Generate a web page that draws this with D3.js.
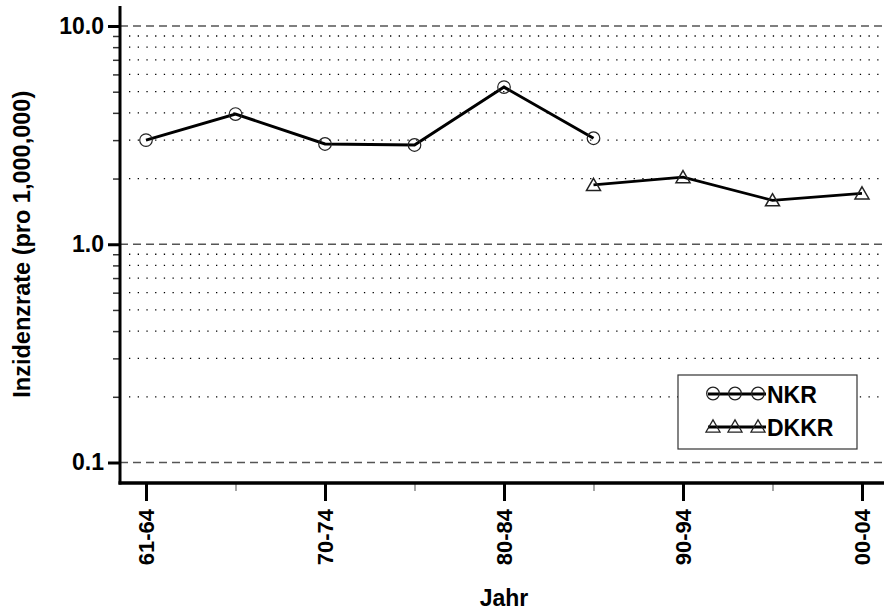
<!DOCTYPE html>
<html>
<head>
<meta charset="utf-8">
<script src="https://cdn.jsdelivr.net/npm/d3@7"></script>
<style>
  body { margin: 0; background: #fff; }
  svg { display: block; }
  svg text { font-family: "Liberation Sans", Arial, sans-serif; font-weight: bold; fill: #000; }
</style>
</head>
<body>
<div id="chart"></div>
<script>
const periods = ["61-64", "65-69", "70-74", "75-79", "80-84", "85-89", "90-94", "95-99", "00-04"];
const labelledPeriods = ["61-64", "70-74", "80-84", "90-94", "00-04"];

const nkrPeriods = ["61-64", "65-69", "70-74", "75-79", "80-84", "85-89"];
const nkrValues = [3.0, 3.95, 2.88, 2.85, 5.25, 3.06];

const dkkrPeriods = ["85-89", "90-94", "95-99", "00-04"];
const dkkrValues = [1.87, 2.03, 1.59, 1.71];

const majorTicks = [0.1, 1, 10];
const minorTicks = [0.2, 0.3, 0.4, 0.5, 0.6, 0.7, 0.8, 0.9, 2, 3, 4, 5, 6, 7, 8, 9];

const W = 884, H = 612;
const margin = {top: 26, right: 0, bottom: 129, left: 120};
const width = W - margin.left - margin.right;

const svg = d3.select("#chart").append("svg")
    .attr("width", W)
    .attr("height", H);

const g = svg.append("g")
    .attr("transform", "translate(" + margin.left + ", " + margin.top + ")");

const y = d3.scaleLog()
    .domain([0.1, 10])
    .range([436.5, 0]);

const x = d3.scalePoint()
    .domain(periods)
    .range([26, 742]);

const plotBottom = 457;

// grid
g.append("g").selectAll("line.minor")
    .data(minorTicks)
    .enter().append("line")
    .attr("class", "minor")
    .attr("x1", 9).attr("x2", width)
    .attr("y1", d => y(d)).attr("y2", d => y(d))
    .style("stroke", "#000")
    .style("stroke-width", 1.3)
    .style("stroke-dasharray", "1.3,7.4");

g.append("g").selectAll("line.major")
    .data(majorTicks)
    .enter().append("line")
    .attr("class", "major")
    .attr("x1", 0).attr("x2", width)
    .attr("y1", d => y(d)).attr("y2", d => y(d))
    .style("stroke", "#555")
    .style("stroke-width", 1.5)
    .style("stroke-dasharray", "8,5");

// y axis
const yMinor = d3.axisLeft(y).tickValues(minorTicks).tickFormat("").tickSize(7).tickSizeOuter(0);
const yMajor = d3.axisLeft(y).tickValues(majorTicks).tickFormat(d3.format(".1f")).tickSize(12).tickPadding(4).tickSizeOuter(0);

g.append("g").attr("class", "y_minor").call(yMinor)
    .selectAll("line").style("stroke", "#333").style("stroke-width", 1.5);

g.append("g").attr("class", "y_axis").call(yMajor)
    .attr("font-family", null).attr("font-size", null)
    .call(a => a.selectAll("line").style("stroke", "#000").style("stroke-width", 3))
    .selectAll("text")
    .style("font-size", "23px");

g.selectAll(".y_minor path, .y_axis path").remove();

// x axis
const xAxisG = g.append("g").attr("transform", "translate(0," + plotBottom + ")");

const xMinor = d3.axisBottom(x).tickValues(periods.filter(p => !labelledPeriods.includes(p))).tickFormat("").tickSize(8).tickSizeOuter(0);
const xMajor = d3.axisBottom(x).tickValues(labelledPeriods).tickSize(18).tickPadding(5).tickSizeOuter(0);

xAxisG.append("g").call(xMinor)
    .call(a => a.select("path").remove())
    .selectAll("line").style("stroke", "#777").style("stroke-width", 1.3);

xAxisG.append("g").attr("class", "x_axis").call(xMajor)
    .attr("font-family", null).attr("font-size", null)
    .call(a => a.select("path").remove())
    .call(a => a.selectAll("line").style("stroke", "#000").style("stroke-width", 3))
    .selectAll("text")
    .attr("transform", "rotate(-90)")
    .attr("x", -26)
    .attr("y", 0)
    .attr("dy", ".36em")
    .style("text-anchor", "end")
    .style("font-size", "22px");

// axis lines
g.append("line")
    .attr("x1", 0).attr("x2", 0)
    .attr("y1", -20).attr("y2", plotBottom + 1.5)
    .style("stroke", "#000").style("stroke-width", 3);
g.append("line")
    .attr("x1", -1.5).attr("x2", width)
    .attr("y1", plotBottom).attr("y2", plotBottom)
    .style("stroke", "#000").style("stroke-width", 3.5);

// series
const line = d3.line().x(d => x(d[0])).y(d => y(d[1]));
const nkr = nkrPeriods.map((p, i) => [p, nkrValues[i]]);
const dkkr = dkkrPeriods.map((p, i) => [p, dkkrValues[i]]);

g.append("path").datum(nkr).attr("d", line)
    .style("fill", "none").style("stroke", "#000").style("stroke-width", 3);
g.append("path").datum(dkkr).attr("d", line)
    .style("fill", "none").style("stroke", "#000").style("stroke-width", 2.8);

const circle = d3.symbol().type(d3.symbolCircle).size(Math.PI * 6.3 * 6.3);
const tri = d3.symbol().type(d3.symbolTriangle).size(85);

g.selectAll("path.nkr").data(nkr).enter().append("path")
    .attr("class", "nkr")
    .attr("d", circle)
    .attr("transform", d => "translate(" + x(d[0]) + "," + y(d[1]) + ")")
    .style("fill", "none").style("stroke", "#222").style("stroke-width", 1.2);

g.selectAll("path.dkkr").data(dkkr).enter().append("path")
    .attr("class", "dkkr")
    .attr("d", tri)
    .attr("transform", d => "translate(" + x(d[0]) + "," + (y(d[1]) + 1.5) + ")")
    .style("fill", "none").style("stroke", "#222").style("stroke-width", 1.5);

// labels
svg.append("text")
    .attr("transform", "translate(30," + (margin.top + y(1)) + ") rotate(-90)")
    .attr("text-anchor", "middle")
    .style("font-size", "23.5px")
    .text("Inzidenzrate (pro 1,000,000)");

svg.append("text")
    .attr("x", margin.left + x("80-84"))
    .attr("y", 606)
    .attr("text-anchor", "middle")
    .style("font-size", "23px")
    .text("Jahr");

// legend
const legend = svg.append("g").attr("transform", "translate(678,375)");
legend.append("rect")
    .attr("width", 179).attr("height", 74)
    .style("fill", "#fff").style("stroke", "#333").style("stroke-width", 1.2);

const legendItems = [
    {name: "NKR", symbol: circle, dy: 0},
    {name: "DKKR", symbol: tri, dy: 1.5}
];
const markX = [35, 57, 80];

const items = legend.selectAll("g.item").data(legendItems).enter().append("g")
    .attr("class", "item")
    .attr("transform", (d, i) => "translate(0," + (19 + i * 33) + ")");

items.append("line")
    .attr("x1", 30).attr("x2", 88)
    .attr("y1", 0).attr("y2", 0)
    .style("stroke", "#000").style("stroke-width", 3);

items.selectAll("path").data(d => markX.map(mx => ({mx: mx, item: d}))).enter().append("path")
    .attr("d", d => d.item.symbol())
    .attr("transform", d => "translate(" + d.mx + "," + (d.item.dy - 0.5) + ")")
    .style("fill", "none").style("stroke", "#222").style("stroke-width", 1.3);

items.append("text")
    .attr("x", 89)
    .attr("y", 8.5)
    .style("font-size", "23px")
    .text(d => d.name);
</script>
</body>
</html>
